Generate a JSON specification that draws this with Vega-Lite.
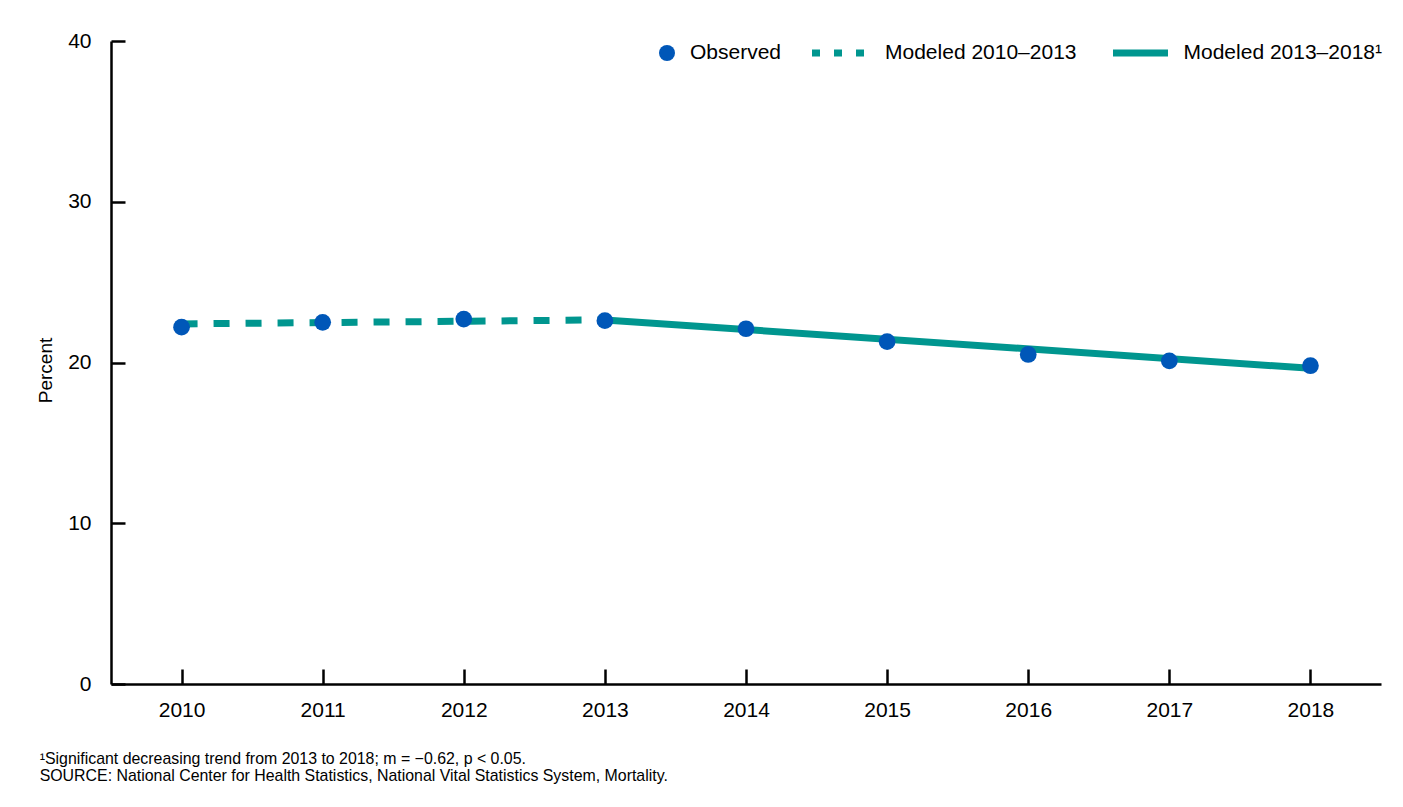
{
  "$schema": "https://vega.github.io/schema/vega-lite/v6.json",
  "width": 1270,
  "height": 643,
  "autosize": {"type": "none"},
  "padding": {"left": 111, "top": 41, "right": 22, "bottom": 123},
  "background": "white",
  "config": {
    "font": "Liberation Sans",
    "view": {"stroke": null},
    "axis": {
      "grid": false,
      "domainColor": "black",
      "domainWidth": 2.5,
      "tickColor": "black",
      "tickWidth": 2.5,
      "labelColor": "black",
      "labelFontSize": 21,
      "titleColor": "black",
      "titleFontWeight": "normal"
    },
    "legend": {
      "padding": 0,
      "labelColor": "black",
      "labelFontSize": 21,
      "labelLimit": 0
    }
  },
  "title": {
    "text": [
      "¹Significant decreasing trend from 2013 to 2018; m = −0.62, p < 0.05.",
      "SOURCE: National Center for Health Statistics, National Vital Statistics System, Mortality."
    ],
    "orient": "bottom",
    "anchor": "start",
    "frame": "bounds",
    "fontSize": 15.9,
    "fontWeight": "normal",
    "lineHeight": 17,
    "color": "black",
    "offset": 31,
    "dx": 3
  },
  "datasets": {
    "observed": [
      {"year": 2010, "percent": 22.2, "label": "Observed"},
      {"year": 2011, "percent": 22.5, "label": "Observed"},
      {"year": 2012, "percent": 22.7, "label": "Observed"},
      {"year": 2013, "percent": 22.6, "label": "Observed"},
      {"year": 2014, "percent": 22.1, "label": "Observed"},
      {"year": 2015, "percent": 21.3, "label": "Observed"},
      {"year": 2016, "percent": 20.5, "label": "Observed"},
      {"year": 2017, "percent": 20.1, "label": "Observed"},
      {"year": 2018, "percent": 19.8, "label": "Observed"}
    ],
    "modeled_early": [
      {"year": 2010, "percent": 22.4, "series": "Modeled 2010–2013"},
      {"year": 2013, "percent": 22.65, "series": "Modeled 2010–2013"}
    ],
    "modeled_late": [
      {"year": 2013, "percent": 22.65, "trend": "Modeled 2013–2018¹"},
      {"year": 2018, "percent": 19.64, "trend": "Modeled 2013–2018¹"}
    ]
  },
  "encoding": {
    "x": {
      "field": "year",
      "type": "quantitative",
      "scale": {"domain": [2009.5, 2018.5], "nice": false, "zero": false},
      "axis": {
        "title": null,
        "values": [2010, 2011, 2012, 2013, 2014, 2015, 2016, 2017, 2018],
        "format": "d",
        "tickSize": -15,
        "labelPadding": 30
      }
    },
    "y": {
      "field": "percent",
      "type": "quantitative",
      "scale": {"domain": [0, 40], "nice": false},
      "axis": {
        "title": "Percent",
        "titleFontSize": 19,
        "titlePadding": 12,
        "titleY": 329,
        "values": [0, 10, 20, 30, 40],
        "tickSize": -14,
        "labelPadding": 34
      }
    }
  },
  "layer": [
    {
      "data": {"name": "modeled_early"},
      "mark": {"type": "line", "color": "#00968F", "strokeCap": "butt"},
      "encoding": {
        "strokeDash": {"value": [16, 16]},
        "strokeWidth": {
          "field": "series",
          "type": "nominal",
          "scale": {"domain": ["Modeled 2010–2013"], "range": [7, 7]},
          "legend": {
            "title": null,
            "orient": "none",
            "legendX": 697.5,
            "legendY": -19,
            "symbolType": "stroke",
            "symbolSize": 3025,
            "symbolStrokeColor": "#00968F",
            "symbolDash": [8, 14],
            "labelOffset": 14.5
          }
        }
      }
    },
    {
      "data": {"name": "modeled_late"},
      "mark": {"type": "line", "strokeWidth": 7, "strokeCap": "butt"},
      "encoding": {
        "color": {
          "field": "trend",
          "type": "nominal",
          "scale": {"domain": ["Modeled 2013–2018¹"], "range": ["#00968F"]},
          "legend": {
            "title": null,
            "orient": "none",
            "legendX": 998.5,
            "legendY": -19,
            "symbolType": "stroke",
            "symbolSize": 3025,
            "symbolStrokeWidth": 7,
            "labelOffset": 12
          }
        }
      }
    },
    {
      "data": {"name": "observed"},
      "mark": {"type": "point", "filled": true, "color": "#0057B8", "opacity": 1, "size": 280},
      "encoding": {
        "shape": {
          "field": "label",
          "type": "nominal",
          "scale": {"domain": ["Observed"], "range": ["circle"]},
          "legend": {
            "title": null,
            "orient": "none",
            "legendX": 545.5,
            "legendY": 1.5,
            "symbolSize": 256,
            "symbolFillColor": "#0057B8",
            "symbolStrokeWidth": 0,
            "labelOffset": 12.5
          }
        }
      }
    }
  ]
}
